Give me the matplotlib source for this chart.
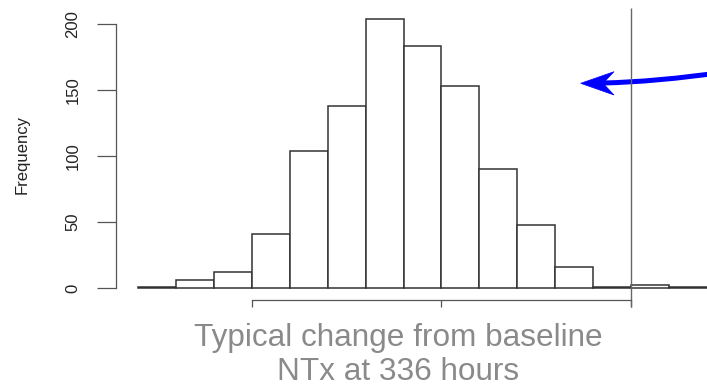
import matplotlib
matplotlib.use("Agg")
import matplotlib.pyplot as plt
from matplotlib.path import Path
from matplotlib.patches import PathPatch, Polygon
import numpy as np

plt.rcParams['font.family'] = ['Liberation Sans', 'DejaVu Sans']

# Histogram of the simulated typical change from baseline (NTx, 336 h)
bin_edges = [-130, -120, -110, -100, -90, -80, -70, -60, -50, -40,
             -30, -20, -10, 0, 10, 20]
counts = [1, 6, 12, 41, 104, 138, 204, 183, 153, 90, 48, 16, 1, 2, 1]
x_ticks = [-100, -50, 0]
y_ticks = [0, 50, 100, 150, 200]
y_tick_labels = ["0", "50", "100", "150", "200"]
reference_value = 0
y_label = "Frequency"
caption = ["Typical change from baseline", "NTx at 336 hours"]

W, H = 707, 389
fig = plt.figure(figsize=(W / 100, H / 100), dpi=100)
ax = fig.add_axes([116 / W, (H - 300) / H, (W - 116) / W, 292 / H])

edges = np.array(bin_edges, dtype=float)
ax.bar(edges[:-1], counts, width=np.diff(edges), align='edge',
       facecolor='white', edgecolor='#333333', linewidth=1.1, clip_on=True)

ax.set_xlim(-135.88, 20.05)
ax.set_ylim(-9.09, 212.12)

for side in ('top', 'right'):
    ax.spines[side].set_visible(False)
ax.spines['left'].set_bounds(y_ticks[0], y_ticks[-1])
ax.spines['bottom'].set_bounds(x_ticks[0], x_ticks[-1])
for side in ('left', 'bottom'):
    ax.spines[side].set_color('#555555')
    ax.spines[side].set_linewidth(0.9)

ax.set_xticks(x_ticks)
ax.set_xticklabels([])
ax.set_yticks(y_ticks)
ax.set_yticklabels(y_tick_labels)
ax.tick_params(axis='x', direction='out', length=5, width=0.9, color='#555555')
ax.tick_params(axis='y', direction='out', length=13.9, width=0.9,
               color='#555555', labelsize=12, labelcolor='#222222',
               pad=11.7, labelrotation=90)
for lbl in ax.get_yticklabels():
    lbl.set_va('center')

# reference line at zero change
ax.vlines(reference_value, -14.4, 212.12, colors='#666666', linewidth=1.0,
          clip_on=False)

fig.text(21.8 / W, (H - 154) / H, y_label, rotation=90, ha='center',
         va='center', fontsize=12, color='#222222')

fig.text(398 / W, (H - 345.7) / H, caption[0], ha='center', va='baseline',
         fontsize=22.7, color='#8a8a8a')
fig.text(398.5 / W, (H - 380) / H, caption[1], ha='center', va='baseline',
         fontsize=22.7, color='#8a8a8a')

# blue pointer arrow coming in from the right
def to_data(px, py):
    return (px - 138.3) / 3.79 - 130, (288 - py) / 1.32

shaft = Path([to_data(603, 83), to_data(655, 82), to_data(725, 72)],
             [Path.MOVETO, Path.CURVE3, Path.CURVE3])
ax.add_patch(PathPatch(shaft, facecolor='none', edgecolor='#0000ff',
                       linewidth=3.6, capstyle='butt', clip_on=False))
head = Polygon([to_data(580.7, 83.3), to_data(614, 71.7),
                to_data(603, 83.3), to_data(614, 95)],
               closed=True, facecolor='#0000ff', edgecolor='#0000ff',
               linewidth=0.5, clip_on=False)
ax.add_patch(head)

fig.savefig("out.png", dpi=100)
